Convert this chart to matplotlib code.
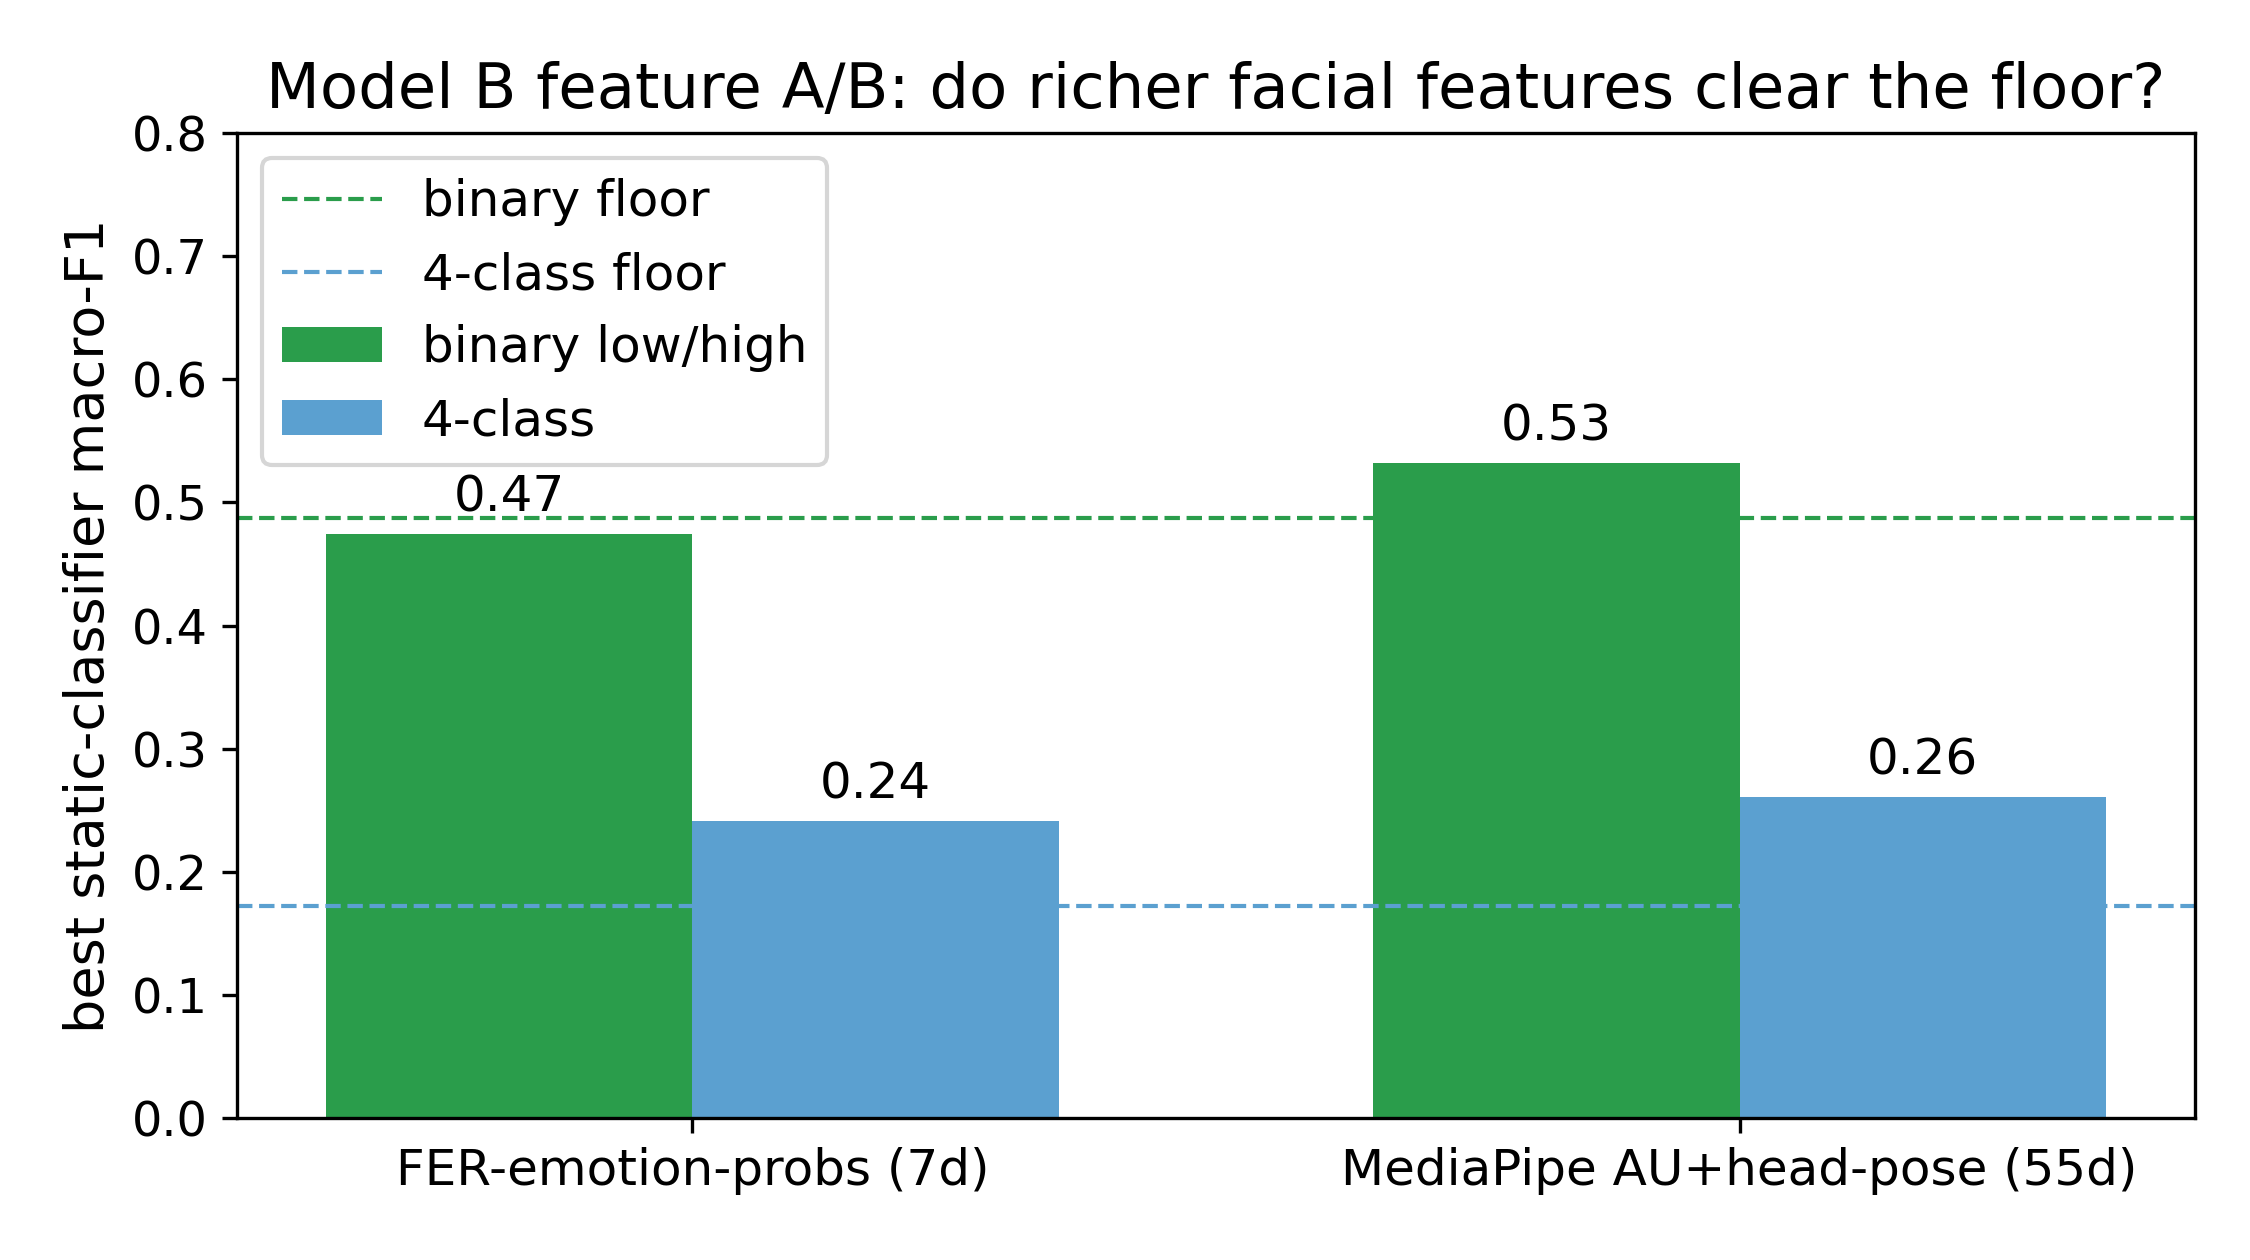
import matplotlib
matplotlib.use("Agg")
import matplotlib.pyplot as plt
import numpy as np

categories = ["FER-emotion-probs (7d)", "MediaPipe AU+head-pose (55d)"]
binary_vals = [0.474, 0.532]
fourclass_vals = [0.241, 0.261]
binary_floor = 0.487
fourclass_floor = 0.172

green = "#2a9d4b"
blue = "#5ba0d0"

fig, ax = plt.subplots(figsize=(7.5, 4.2), dpi=300)
x = np.arange(len(categories))
w = 0.35
ax.axhline(binary_floor, color=green, linestyle="--", linewidth=1.0, label="binary floor")
ax.axhline(fourclass_floor, color=blue, linestyle="--", linewidth=1.0, label="4-class floor")
b1 = ax.bar(x - w / 2, binary_vals, w, color=green, label="binary low/high")
b2 = ax.bar(x + w / 2, fourclass_vals, w, color=blue, label="4-class")
ax.bar_label(b1, fmt="%.2f", padding=3, fontsize=12)
ax.bar_label(b2, fmt="%.2f", padding=3, fontsize=12)

ax.set_xticks(x)
ax.set_xticklabels(categories, fontsize=12)
ax.tick_params(axis="y", labelsize=11.5)
ax.set_ylim(0, 0.8)
ax.set_ylabel("best static-classifier macro-F1", fontsize=13)
ax.set_title("Model B feature A/B: do richer facial features clear the floor?", fontsize=15)
ax.legend(loc="upper left", fontsize=12)
fig.subplots_adjust(left=0.1053, right=0.9756, top=0.8944, bottom=0.1127)
fig.savefig("out.png", dpi=300)
